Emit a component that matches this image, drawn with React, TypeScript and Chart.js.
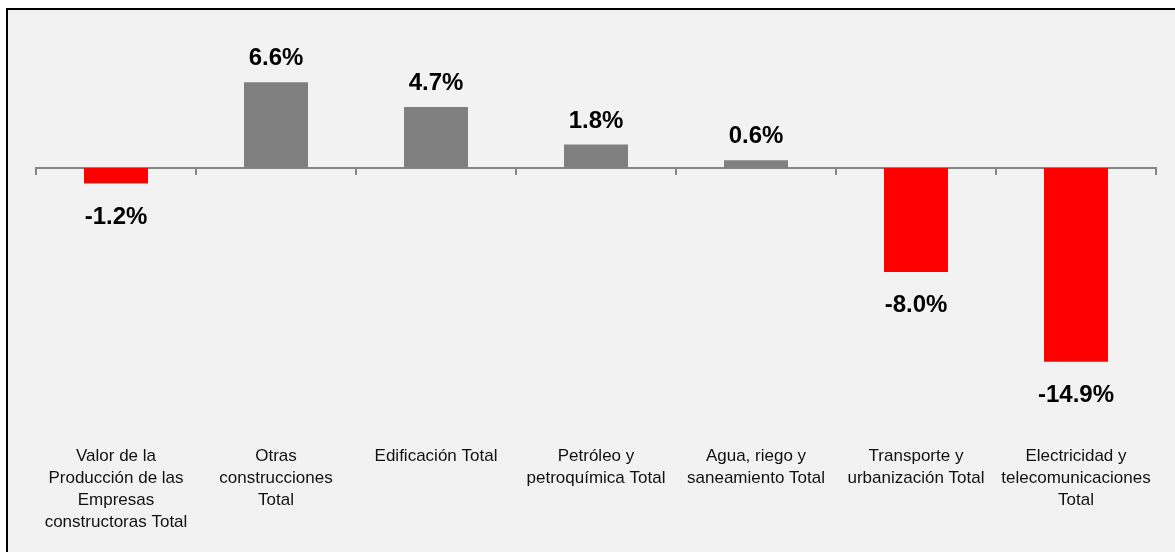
import React, { useEffect, useRef } from "react";
import { Chart, registerables } from "chart.js";

Chart.register(...registerables);

const categories: string[][] = [
  ["Valor de la", "Producción de las", "Empresas", "constructoras Total"],
  ["Otras", "construcciones", "Total"],
  ["Edificación Total"],
  ["Petróleo y", "petroquímica Total"],
  ["Agua, riego y", "saneamiento Total"],
  ["Transporte y", "urbanización Total"],
  ["Electricidad y", "telecomunicaciones", "Total"],
];

const values: number[] = [-1.2, 6.6, 4.7, 1.8, 0.6, -8.0, -14.9];

const POS_COLOR = "#808080";
const NEG_COLOR = "#ff0000";

const labelPlugin = {
  id: "valueLabels",
  afterDatasetsDraw(chart: any) {
    const ctx = chart.ctx;
    const meta = chart.getDatasetMeta(0);
    ctx.save();
    ctx.font = 'bold 24px "Liberation Sans", Arial, sans-serif';
    ctx.fillStyle = "#000";
    ctx.textAlign = "center";
    ctx.textBaseline = "alphabetic";
    meta.data.forEach((bar: any, i: number) => {
      const v = values[i];
      const txt = v.toFixed(1) + "%";
      const y = v >= 0 ? bar.y - 17 : bar.y + 40;
      ctx.fillText(txt, bar.x, y);
    });
    ctx.restore();
  },
};

export default function App() {
  const ref = useRef<HTMLCanvasElement | null>(null);

  useEffect(() => {
    if (!ref.current) return;
    const chart = new Chart(ref.current, {
      type: "bar",
      data: {
        labels: categories as any,
        datasets: [
          {
            data: values,
            backgroundColor: values.map((v) => (v >= 0 ? POS_COLOR : NEG_COLOR)),
            barPercentage: 0.5,
            categoryPercentage: 0.8,
            xAxisID: "x",
          },
        ],
      },
      options: {
        responsive: false,
        animation: false,
        layout: { padding: { left: 36, right: 19, top: 64, bottom: 0 } },
        plugins: {
          legend: { display: false },
          tooltip: { enabled: false },
          title: { display: false },
        },
        scales: {
          y: {
            display: false,
            min: -20,
            max: 8,
          },
          x: {
            type: "category",
            position: { y: 0 } as any,
            offset: true,
            ticks: { display: false },
            grid: {
              display: true,
              offset: true,
              drawOnChartArea: false,
              drawTicks: true,
              tickLength: 6,
              color: "#868686",
              lineWidth: 2,
            },
            border: { display: true, color: "#868686", width: 2 },
          },
          x2: {
            type: "category",
            axis: "x",
            position: "bottom",
            offset: true,
            grid: { display: false, drawTicks: false },
            border: { display: false },
            ticks: {
              color: "#111",
              maxRotation: 0,
              autoSkip: false,
              padding: 17,
              font: { family: '"Liberation Sans", Arial, sans-serif', size: 17, lineHeight: 1.3 },
            },
            afterFit: (scale: any) => {
              scale.height = 124;
            },
          } as any,
        },
      },
      plugins: [labelPlugin],
    });
    return () => chart.destroy();
  }, []);

  return (
    <div
      style={{
        position: "fixed",
        left: 0,
        top: 0,
        width: 1175,
        height: 552,
        overflow: "hidden",
        background: "#fff",
      }}
    >
      <div
        style={{
          position: "absolute",
          left: 6,
          top: 8,
          width: 1220,
          height: 600,
          border: "2px solid #000",
          background: "#f2f2f2",
        }}
      />
      <canvas
        ref={ref}
        width={1175}
        height={552}
        style={{ position: "absolute", left: 0, top: 0, width: 1175, height: 552 }}
      />
    </div>
  );
}
